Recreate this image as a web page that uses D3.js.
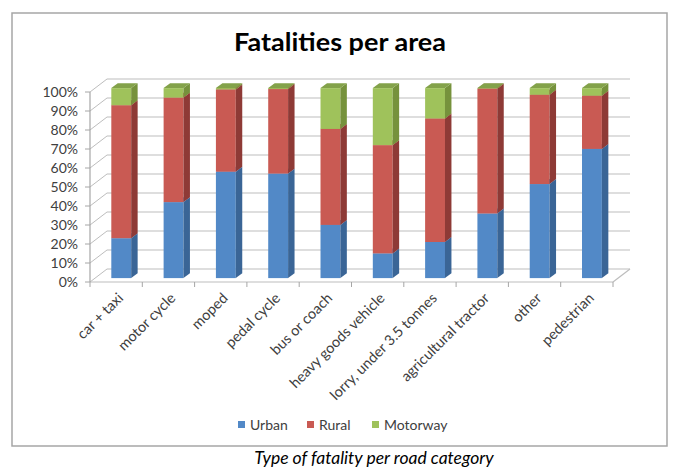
<!DOCTYPE html>
<html>
<head>
<meta charset="utf-8">
<script src="https://cdn.jsdelivr.net/npm/d3@7"></script>
<style>
  html, body { margin: 0; padding: 0; background: #fff; }
  svg { display: block; }
</style>
</head>
<body>
<svg id="chart" width="683" height="474"></svg>
<script>
// ---- data (shares, %) ----
const categories = ["car + taxi", "motor cycle", "moped", "pedal cycle", "bus or coach",
  "heavy goods vehicle", "lorry, under 3.5 tonnes", "agricultural tractor", "other", "pedestrian"];
const urban    = [21, 40, 56, 55, 28, 13, 19, 34, 49.5, 68];
const rural    = [70, 55, 43.3, 44.5, 50.5, 57, 65, 65.7, 47, 28];
const motorway = [9, 5, 0.7, 0.5, 21.5, 30, 16, 0.3, 3.5, 4];
const seriesNames = ["Urban", "Rural", "Motorway"];
const yTicks = [0, 10, 20, 30, 40, 50, 60, 70, 80, 90, 100];
const yTickLabels = ["0%", "10%", "20%", "30%", "40%", "50%", "60%", "70%", "80%", "90%", "100%"];

// ---- styling ----
const palette = {
  Urban:    { front: "#5289C7", side: "#3A6596", top: "#6A98CF" },
  Rural:    { front: "#C95A53", side: "#8E3A36", top: "#B9534D" },
  Motorway: { front: "#9FC25B", side: "#76923C", top: "#83A24A" }
};
const font = "Lato, 'Open Sans', sans-serif";
const gridColor = "#BDBDBD";

const svg = d3.select("#chart");

// outer chart box
svg.append("rect").attr("x", 12).attr("y", 13).attr("width", 655).attr("height", 433)
  .attr("fill", "#fff").attr("stroke", "#A6A6A6").attr("stroke-width", 1.5);

// title
svg.append("text").attr("x", 340).attr("y", 51).attr("text-anchor", "middle")
  .attr("font-family", font).attr("font-weight", "bold").attr("font-size", 24)
  .attr("textLength", 212).attr("lengthAdjust", "spacingAndGlyphs")
  .attr("fill", "#000").text("Fatalities per area");

// ---- scales ----
const x = d3.scaleBand().domain(categories).range([90, 613])
  .paddingInner(0.62).paddingOuter(0.31);
const step = x.step();
const y = d3.scaleLinear().domain([0, 100]).range([282, 92]);
const D = { x: 17, y: -13 };          // floor depth vector
const t0 = 0.3, t1 = 0.68;            // bar placement along depth
const o0 = { x: D.x * t0, y: D.y * t0 };
const bd = { x: D.x * (t1 - t0), y: D.y * (t1 - t0) };

const grid = svg.append("g");
// back wall gridlines and left wall diagonals
yTicks.forEach(t => {
  const yy = y(t);
  grid.append("line").attr("x1", 90 + D.x).attr("x2", 613 + D.x)
    .attr("y1", yy + D.y).attr("y2", yy + D.y)
    .attr("stroke", gridColor).attr("stroke-width", 1);
  grid.append("line").attr("x1", 90).attr("x2", 90 + D.x)
    .attr("y1", yy).attr("y2", yy + D.y)
    .attr("stroke", gridColor).attr("stroke-width", 1);
});
// floor edges
grid.append("line").attr("x1", 90).attr("x2", 613).attr("y1", y(0)).attr("y2", y(0))
  .attr("stroke", gridColor).attr("stroke-width", 1.2);
grid.append("line").attr("x1", 613).attr("x2", 613 + D.x).attr("y1", y(0)).attr("y2", y(0) + D.y)
  .attr("stroke", gridColor).attr("stroke-width", 1.2);
// y axis line + ticks
grid.append("line").attr("x1", 90).attr("x2", 90).attr("y1", y(0)).attr("y2", y(100))
  .attr("stroke", "#A6A6A6").attr("stroke-width", 1.2);
yTicks.forEach(t => {
  grid.append("line").attr("x1", 85).attr("x2", 90).attr("y1", y(t)).attr("y2", y(t))
    .attr("stroke", "#A6A6A6").attr("stroke-width", 1);
});
// x axis ticks (category boundaries)
d3.range(categories.length + 1).forEach(i => {
  const xx = 90 + i * step;
  grid.append("line").attr("x1", xx).attr("x2", xx).attr("y1", y(0)).attr("y2", y(0) + 5)
    .attr("stroke", "#A6A6A6").attr("stroke-width", 1);
});

// y tick labels
svg.append("g").selectAll("text").data(yTicks).join("text")
  .attr("x", 78).attr("y", d => y(d)).attr("dy", "0.35em").attr("text-anchor", "end")
  .attr("font-family", font).attr("font-size", 14).attr("fill", "#404040")
  .text((d, i) => yTickLabels[i]);

// category labels
svg.append("g").selectAll("text").data(categories).join("text")
  .attr("text-anchor", "end")
  .attr("transform", d => `translate(${x(d) + x.bandwidth() / 2 + 8},${y(0) + 17}) rotate(-45)`)
  .attr("font-family", font).attr("font-size", 14.5).attr("fill", "#404040")
  .text(d => d);

// ---- bars ----
const table = categories.map((c, i) => ({ cat: c, Urban: urban[i], Rural: rural[i], Motorway: motorway[i] }));
const stacked = d3.stack().keys(seriesNames)(table);

const bars = svg.append("g");
table.forEach((row, i) => {
  const w = x.bandwidth();
  const x0 = x(row.cat) + o0.x;
  stacked.forEach(layer => {
    const seg = layer[i];
    if (seg[1] - seg[0] <= 0) return;
    const c = palette[layer.key];
    const yb = y(seg[0]) + o0.y, yt = y(seg[1]) + o0.y;
    // front
    bars.append("rect").attr("x", x0).attr("y", yt).attr("width", w).attr("height", yb - yt)
      .attr("fill", c.front);
    // side
    bars.append("path").attr("fill", c.side).attr("d",
      `M${x0 + w},${yb} L${x0 + w + bd.x},${yb + bd.y} L${x0 + w + bd.x},${yt + bd.y} L${x0 + w},${yt} Z`);
    // top
    bars.append("path").attr("fill", c.top).attr("d",
      `M${x0},${yt} L${x0 + w},${yt} L${x0 + w + bd.x},${yt + bd.y} L${x0 + bd.x},${yt + bd.y} Z`);
  });
});

// ---- legend ----
const legendX = [238, 307, 372];
const legend = svg.append("g");
seriesNames.forEach((s, i) => {
  legend.append("rect").attr("x", legendX[i]).attr("y", 421).attr("width", 7).attr("height", 7)
    .attr("fill", palette[s].front);
  legend.append("text").attr("x", legendX[i] + 12).attr("y", 430)
    .attr("font-family", font).attr("font-size", 14).attr("fill", "#404040").text(s);
});

// caption below the chart box
svg.append("text").attr("x", 374).attr("y", 464).attr("text-anchor", "middle")
  .attr("font-family", font).attr("font-style", "italic").attr("font-size", 17.5)
  .attr("fill", "#000").text("Type of fatality per road category");
</script>
</body>
</html>
